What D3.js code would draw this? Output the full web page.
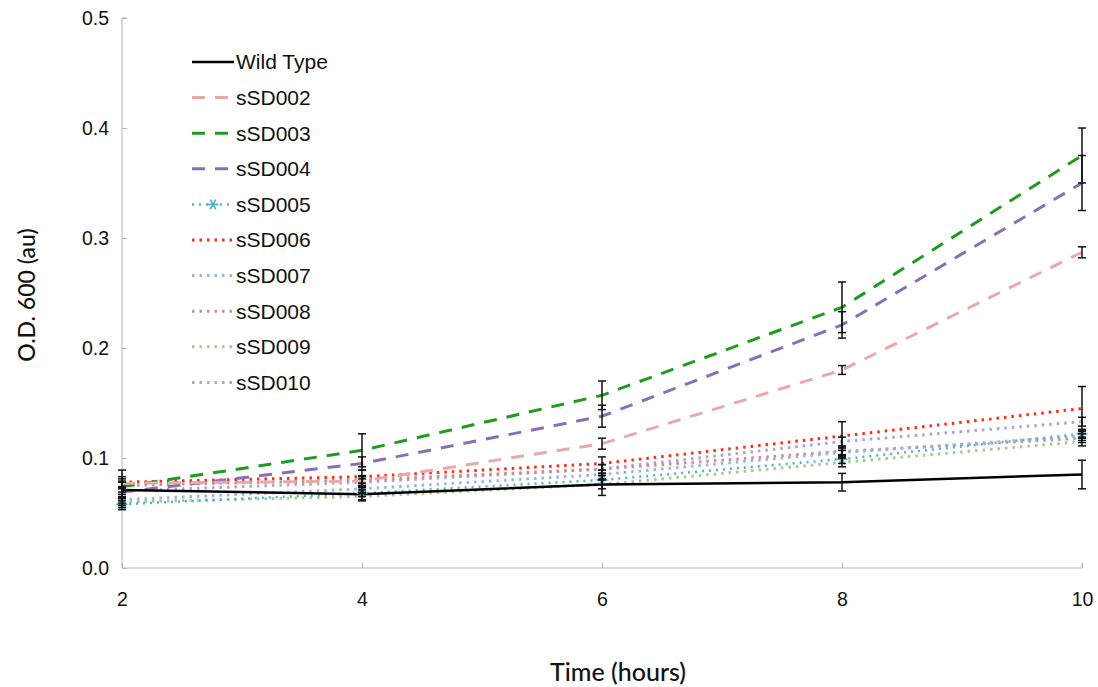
<html>
<head>
<script src="https://cdn.jsdelivr.net/npm/d3@7"></script>
<style>
  body { margin: 0; background: #fff; }
  svg { display: block; }
  .axis path, .axis line { stroke: #b5b5b5; }
  .tick text { font-family: "Liberation Sans", Arial, sans-serif; font-size: 19.5px; fill: #111; }
</style>
</head>
<body>
<div id="container"></div>
<script>
// values
var hours = [2, 4, 6, 8, 10];
var names = ["Wild Type", "sSD002", "sSD003", "sSD004", "sSD005", "sSD006", "sSD007", "sSD008", "sSD009", "sSD010"];
var wildType = [0.071, 0.067, 0.076, 0.078, 0.085];
var sSD002 = [0.077, 0.079, 0.113, 0.180, 0.287];
var sSD003 = [0.074, 0.107, 0.157, 0.237, 0.375];
var sSD004 = [0.069, 0.095, 0.138, 0.221, 0.350];
var sSD005 = [0.058, 0.068, 0.080, 0.099, 0.122];
var sSD006 = [0.078, 0.083, 0.095, 0.120, 0.145];
var sSD007 = [0.062, 0.072, 0.085, 0.105, 0.120];
var sSD008 = [0.075, 0.080, 0.090, 0.106, 0.118];
var sSD009 = [0.060, 0.065, 0.076, 0.096, 0.115];
var sSD010 = [0.070, 0.078, 0.090, 0.115, 0.133];
// error bar half widths
var errWT  = [0.018, 0.006, 0.010, 0.008, 0.013];
var err002 = [0.004, 0.005, 0.005, 0.004, 0.005];
var err003 = [0.005, 0.015, 0.013, 0.023, 0.025];
var err004 = [0.005, 0.006, 0.010, 0.012, 0.025];
var err006 = [0.005, 0.006, 0.006, 0.013, 0.020];
var errSmall = [0.003, 0.003, 0.004, 0.004, 0.004];
var yTicks = [0, 0.1, 0.2, 0.3, 0.4, 0.5];
var xTicks = [2, 4, 6, 8, 10];

var series = [
  {name: names[0], values: wildType, err: errWT,  color: "#000", dash: null, width: 2.5},
  {name: names[1], values: sSD002,  err: err002, color: "#e9aaa7", dash: "13,10", width: 3},
  {name: names[2], values: sSD003,  err: err003, color: "#1f9b1f", dash: "13,10", width: 3},
  {name: names[3], values: sSD004,  err: err004, color: "#8a70b2", dash: "13,10", width: 3},
  {name: names[4], values: sSD005,  err: errSmall, color: "#4cb4c9", dash: "2,5", width: 2.5, star: true},
  {name: names[5], values: sSD006,  err: err006, color: "#ff2a18", dash: "2.5,5", width: 3},
  {name: names[6], values: sSD007,  err: errSmall, color: "#9db3dc", dash: "2.5,5", width: 3},
  {name: names[7], values: sSD008,  err: errSmall, color: "#cc8d93", dash: "2.5,5", width: 3},
  {name: names[8], values: sSD009,  err: errSmall, color: "#a9c98c", dash: "2.5,5", width: 3},
  {name: names[9], values: sSD010,  err: errSmall, color: "#aba4d1", dash: "2.5,5", width: 3}
];

var width = 1098, height = 687;
var svg = d3.select("#container").append("svg")
  .attr("width", width).attr("height", height);

var x = d3.scaleLinear().domain([2, 10]).range([122, 1082]);
var y = d3.scaleLinear().domain([0, 0.5]).range([568, 18]);

// axes
svg.append("g").attr("class", "axis")
  .attr("transform", "translate(0,568)")
  .call(d3.axisBottom(x).tickValues(xTicks).tickSize(-5).tickPadding(24).tickFormat(d3.format("d")))
  .call(function(g){ g.select(".domain").attr("d", "M122,0H1082V-5"); });

svg.append("g").attr("class", "axis")
  .attr("transform", "translate(122,0)")
  .call(d3.axisLeft(y).tickValues(yTicks).tickSize(-5).tickPadding(13).tickFormat(d3.format(".1f")))
  .call(function(g){ g.select(".domain").attr("d", "M5,18H0V568"); });

svg.selectAll(".axis").filter(function(d, i){ return i === 0; }).selectAll(".tick text").attr("dy", "0.71em");
svg.selectAll(".axis").filter(function(d, i){ return i === 1; }).selectAll(".tick text").attr("dy", "0.32em");

var line = d3.line()
  .x(function(d, i){ return x(hours[i]); })
  .y(function(d){ return y(d); });

var plot = svg.append("g");

// lines, drawn so that the wild type ends on top
series.slice().reverse().forEach(function(s){
  plot.append("path")
    .attr("d", line(s.values))
    .attr("fill", "none")
    .attr("stroke", s.color)
    .attr("stroke-width", s.width)
    .attr("stroke-dasharray", s.dash);
});

// asterisk markers for sSD005
function star(g, cx, cy, c){
  [0, 60, 120].forEach(function(a){
    var r = a * Math.PI / 180;
    g.append("line")
      .attr("x1", cx - 5.5 * Math.cos(r)).attr("y1", cy - 5.5 * Math.sin(r))
      .attr("x2", cx + 5.5 * Math.cos(r)).attr("y2", cy + 5.5 * Math.sin(r))
      .attr("stroke", c).attr("stroke-width", 1.8);
  });
}
series.forEach(function(s){
  if (!s.star) return;
  s.values.forEach(function(v, i){ star(plot, x(hours[i]), y(v), s.color); });
});

// error bars
var eb = svg.append("g").attr("stroke", "#111").attr("stroke-width", 1.5);
series.forEach(function(s){
  s.values.forEach(function(v, i){
    var cx = x(hours[i]), y1 = y(v - s.err[i]), y2 = y(v + s.err[i]);
    eb.append("line").attr("x1", cx).attr("x2", cx).attr("y1", y1).attr("y2", y2);
    eb.append("line").attr("x1", cx - 4).attr("x2", cx + 4).attr("y1", y1).attr("y2", y1);
    eb.append("line").attr("x1", cx - 4).attr("x2", cx + 4).attr("y1", y2).attr("y2", y2);
  });
});

// legend
var legend = svg.append("g").attr("transform", "translate(192,62)");
series.forEach(function(s, i){
  var g = legend.append("g").attr("transform", "translate(0," + (i * 35.6) + ")");
  g.append("line").attr("x1", 0).attr("x2", 42).attr("y1", 0).attr("y2", 0)
    .attr("stroke", s.color).attr("stroke-width", s.width)
    .attr("stroke-dasharray", s.dash);
  if (s.star) star(g, 21, 0, s.color);
  g.append("text").attr("x", 44).attr("y", 0).attr("dy", "0.35em")
    .style("font-family", "'Liberation Sans', Arial, sans-serif")
    .style("font-size", "21px").attr("fill", "#111")
    .text(s.name);
});

// axis titles
svg.append("text")
  .attr("x", 618).attr("y", 672).attr("dy", "0.35em")
  .attr("text-anchor", "middle")
  .style("font-family", "Lato, 'Open Sans', sans-serif").style("font-size", "25px")
  .style("font-weight", "500").attr("fill", "#111")
  .text("Time (hours)");

svg.append("text")
  .attr("transform", "translate(27,295) rotate(-90)")
  .attr("dy", "0.35em")
  .attr("text-anchor", "middle")
  .style("font-family", "Lato, 'Open Sans', sans-serif").style("font-size", "23px")
  .style("font-weight", "500").attr("fill", "#111")
  .text("O.D. 600 (au)");
</script>
</body>
</html>
